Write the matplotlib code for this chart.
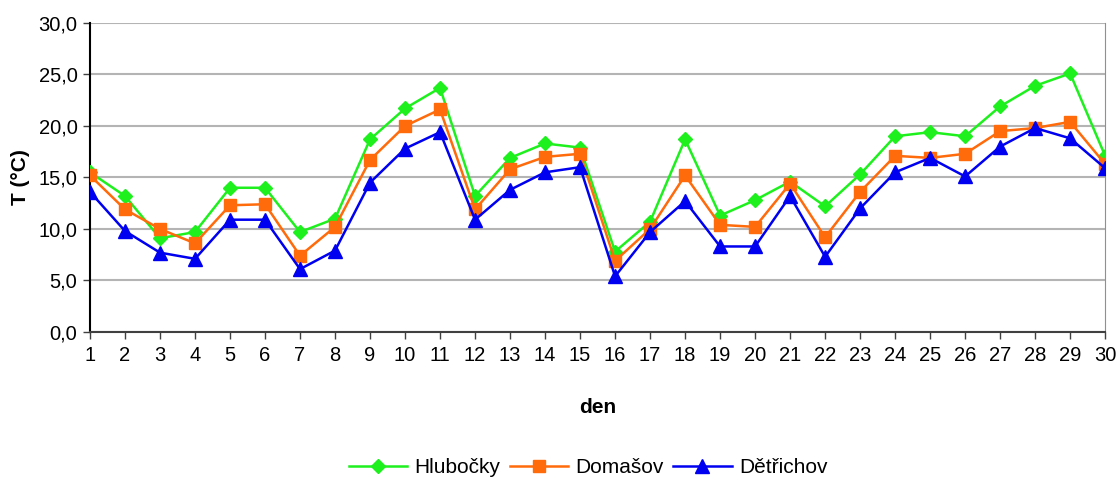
import matplotlib.pyplot as plt
from matplotlib.ticker import FuncFormatter

plt.rcParams['font.family'] = ['Liberation Sans', 'DejaVu Sans']

days = list(range(1, 31))
hlubocky = [15.5, 13.2, 9.1, 9.7, 14.0, 14.0, 9.7, 11.0, 18.7, 21.7,
            23.7, 13.2, 16.9, 18.3, 17.9, 7.8, 10.7, 18.7, 11.3, 12.8,
            14.6, 12.2, 15.3, 19.0, 19.4, 19.0, 21.9, 23.9, 25.1, 17.1]
domasov = [15.2, 11.9, 10.0, 8.6, 12.3, 12.4, 7.4, 10.2, 16.7, 20.0,
           21.6, 11.9, 15.8, 17.0, 17.3, 6.9, 10.0, 15.2, 10.4, 10.2,
           14.4, 9.2, 13.6, 17.1, 16.9, 17.3, 19.5, 19.8, 20.4, 16.3]
detrichov = [13.6, 9.8, 7.7, 7.1, 10.9, 10.9, 6.1, 7.9, 14.5, 17.8,
             19.4, 10.9, 13.8, 15.5, 16.0, 5.4, 9.7, 12.7, 8.3, 8.3,
             13.2, 7.3, 12.0, 15.5, 16.9, 15.1, 18.0, 19.8, 18.8, 15.9]

fig = plt.figure(figsize=(11.18, 4.79), dpi=100)
ax = fig.add_axes([0.0805, 0.307, 0.908, 0.645])

ax.plot(days, hlubocky, color='#1EF01E', lw=1.8, marker='D', ms=7.5, label='Hlubočky', zorder=3)
ax.plot(days, domasov, color='#FF6A0A', lw=1.8, marker='s', ms=8.5, label='Domašov', zorder=4)
ax.plot(days, detrichov, color='#0000F0', lw=1.8, marker='^', ms=10.5, label='Dětřichov', zorder=5)

ax.set_xlim(1, 30)
ax.set_ylim(0, 30)
ax.set_xticks(days)
ax.set_yticks(range(0, 31, 5))
ax.yaxis.set_major_formatter(FuncFormatter(lambda v, p: f"{v:.1f}".replace('.', ',')))
ax.grid(axis='y', color='#b4b4b4', lw=1.5)
ax.set_axisbelow(True)

ax.spines['top'].set_visible(False)
ax.spines['right'].set_color('#909090')
ax.spines['left'].set_color('black')
ax.spines['bottom'].set_color('#404040')
ax.spines['left'].set_linewidth(1.5)
ax.spines['bottom'].set_linewidth(1.5)
ax.tick_params(axis='both', labelsize=14.5, direction='out', length=5, width=1, colors='#404040', labelcolor='black')
ax.tick_params(axis='x', pad=5)
ax.tick_params(axis='y', pad=4)

ax.set_ylabel('T (°C)', fontsize=15, fontweight='bold', labelpad=6)
ax.set_xlabel('den', fontsize=15, fontweight='bold', labelpad=24)

fig.legend(loc='center', bbox_to_anchor=(0.526, 0.024), ncol=3, frameon=False,
           fontsize=15, handlelength=2.8, columnspacing=0.45, handletextpad=0.35)

fig.savefig('out.png', dpi=100)
